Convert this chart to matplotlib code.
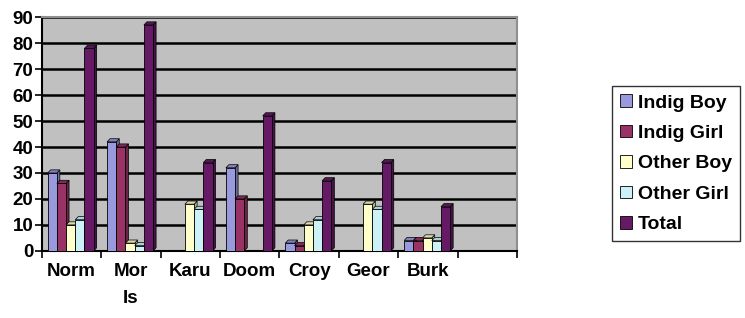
import numpy as np
import matplotlib.pyplot as plt
from matplotlib.colors import to_rgb

categories = ["Norm", "Mor\nIs", "Karu", "Doom", "Croy", "Geor", "Burk", ""]
series_names = ["Indig Boy", "Indig Girl", "Other Boy", "Other Girl", "Total"]
indig_boy = [30, 42, 0, 32, 3, 0, 4, 0]
indig_girl = [26, 40, 0, 20, 2, 0, 4, 0]
other_boy = [10, 3, 18, 0, 10, 18, 5, 0]
other_girl = [12, 2, 16, 0, 12, 16, 4, 0]
total = [78, 87, 34, 52, 27, 34, 17, 0]
colors = ["#9999DD", "#993366", "#FFFFCC", "#CCF2F8", "#661A66"]

plt.rcParams['font.family'] = ['Liberation Sans', 'DejaVu Sans']
plt.rcParams['font.weight'] = 'bold'


def shade(c, f):
    r, g, b = to_rgb(c)
    return (r * f, g * f, b * f)


fig = plt.figure(figsize=(7.45, 3.18), dpi=100)
ax = fig.add_axes([0.056, 0.211, 0.638, 0.735])
ax.set_facecolor("#C0C0C0")

x = np.arange(len(categories))
width = 0.155
dx, dy = 0.05, 1.2  # fake 3D depth
data = [indig_boy, indig_girl, other_boy, other_girl, total]
for i, (vals, c, name) in enumerate(zip(data, colors, series_names)):
    pos = x + 0.1 + width * i
    for p, v in zip(pos, vals):
        if v <= 0:
            continue
        # side and top faces
        ax.fill([p + width, p + width + dx, p + width + dx, p + width],
                [0, dy, v + dy, v], color=shade(c, 0.7), ec='black', lw=0.5, zorder=3 + i)
        ax.fill([p, p + dx, p + width + dx, p + width],
                [v, v + dy, v + dy, v], color=shade(c, 0.85), ec='black', lw=0.5, zorder=3 + i)
    ax.bar(pos, vals, width=width, align='edge', color=c, edgecolor='black',
           linewidth=0.6, label=name, zorder=3 + i)

ax.set_xlim(0, len(categories))
ax.set_ylim(0, 90)
ax.set_yticks(range(0, 91, 10))
ax.set_xticks(np.arange(len(categories) + 1))
ax.set_xticklabels([])
ax.set_xticks(x + 0.5, minor=True)
ax.set_xticklabels(categories, minor=True, fontsize=13.5, fontweight='bold',
                   linespacing=1.75)
ax.tick_params(axis='x', which='minor', length=0, pad=9)
ax.tick_params(axis='x', which='major', length=5, width=1.2, direction='out')
ax.tick_params(axis='y', length=5, width=1.2, direction='out', labelsize=13.5, pad=1)

ax.grid(axis='y', color='black', linewidth=1.8, zorder=1)
ax.set_axisbelow(True)
for s in ['top', 'right']:
    ax.spines[s].set_color('#909090')
    ax.spines[s].set_linewidth(1.5)
ax.spines['left'].set_linewidth(1.5)
ax.spines['bottom'].set_linewidth(1.5)

leg = fig.legend(loc='center left', bbox_to_anchor=(0.821, 0.485), frameon=True,
                 fancybox=False, edgecolor='black', fontsize=14,
                 handlelength=0.62, handleheight=0.62, handletextpad=0.3,
                 labelspacing=0.68, borderpad=0.42, borderaxespad=0)
leg.get_frame().set_linewidth(1.0)
for t in leg.get_texts():
    t.set_fontweight('bold')

fig.savefig("out.png", dpi=100)
